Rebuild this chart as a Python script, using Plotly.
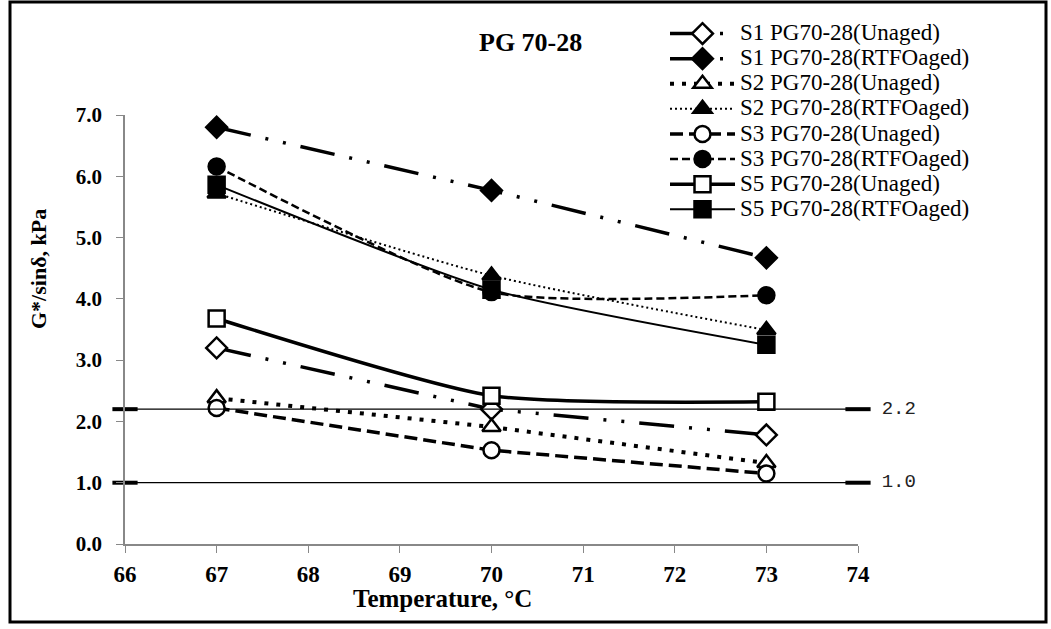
import plotly.graph_objects as go

temperature = [67, 70, 73]
s1_unaged = [3.20, 2.20, 1.78]
s1_rtfo = [6.80, 5.77, 4.67]
s2_unaged = [2.38, 1.91, 1.32]
s2_rtfo = [5.72, 4.38, 3.49]
s3_unaged = [2.22, 1.53, 1.15]
s3_rtfo = [6.16, 4.11, 4.06]
s5_unaged = [3.68, 2.42, 2.32]
s5_rtfo = [5.86, 4.15, 3.25]
names = ["S1 PG70-28(Unaged)", "S1 PG70-28(RTFOaged)", "S2 PG70-28(Unaged)",
         "S2 PG70-28(RTFOaged)", "S3 PG70-28(Unaged)", "S3 PG70-28(RTFOaged)",
         "S5 PG70-28(Unaged)", "S5 PG70-28(RTFOaged)"]
ref_x = [66, 74]
ref_levels = [2.2, 1.0]
x_ticks = [66, 67, 68, 69, 70, 71, 72, 73, 74]
y_ticks = [0, 1, 2, 3, 4, 5, 6, 7]

SERIF = "Liberation Serif, Times New Roman, serif"
W, H = 1051, 629
L, R, T, B = 125, 858, 115, 544


def px(xp):
    return (xp - L) / (R - L)


def py(yp):
    return (B - yp) / (B - T)


fig = go.Figure()

styles = [
    (s1_unaged, "diamond", "white", "35px,15px,3px,15px,3px,15px", 3.5, "linear"),
    (s1_rtfo, "diamond", "black", "35px,15px,3px,15px,3px,15px", 3.5, "linear"),
    (s2_unaged, "triangle-up", "white", "4px,8px", 4, "linear"),
    (s2_rtfo, "triangle-up", "black", "2px,3px", 2, "spline"),
    (s3_unaged, "circle", "white", "13px,6px", 3.5, "linear"),
    (s3_rtfo, "circle", "black", "8px,4px", 2.5, "spline"),
    (s5_unaged, "square", "white", "solid", 3.5, "spline"),
    (s5_rtfo, "square", "black", "solid", 2, "spline"),
]

for (vals, sym, fill, dash, lw, shape), nm in zip(styles, names):
    fig.add_trace(go.Scatter(
        x=temperature, y=vals,
        name=f'<span style="font-size:23px">{nm}</span>',
        mode="lines+markers",
        line=dict(color="black", width=lw, dash=dash, shape=shape, smoothing=0.6),
        marker=dict(symbol=sym, size=16, color=fill,
                    line=dict(color="black", width=2.5)),
        cliponaxis=False,
    ))

for lvl in ref_levels:
    fig.add_trace(go.Scatter(
        x=ref_x, y=[lvl, lvl], mode="lines+markers+text",
        line=dict(color="black", width=1.2),
        marker=dict(symbol="line-ew", size=18, line=dict(color="black", width=4)),
        text=["", f" {lvl:.1f}"], textposition="middle right",
        textfont=dict(family="Liberation Mono, monospace", size=19, color="#222"),
        showlegend=False, cliponaxis=False, hoverinfo="skip",
    ))

fig.update_layout(
    width=W, height=629,
    margin=dict(l=L, r=W - R, t=T, b=H - B),
    paper_bgcolor="white", plot_bgcolor="white",
    font=dict(family=SERIF, color="black"),
    showlegend=True,
    legend=dict(x=px(665), y=py(16), xanchor="left", yanchor="top",
                font=dict(family=SERIF, size=17, color="black"),
                bgcolor="rgba(255,255,255,0)", tracegroupgap=0,
                itemwidth=65),
    xaxis=dict(range=[66, 74], tickvals=x_ticks, ticks="outside", ticklen=7,
               tickcolor="#888", showline=True, linecolor="#888", linewidth=1.5,
               showgrid=False, zeroline=False, ticklabelstandoff=2,
               tickfont=dict(family=SERIF, size=23, color="black", weight="bold")),
    yaxis=dict(range=[0, 7], tickvals=y_ticks, tickformat=".1f", ticks="outside",
               ticklen=7, tickcolor="#888", showline=True, linecolor="#888",
               linewidth=1.5, showgrid=False, zeroline=False, ticklabelstandoff=10,
               tickfont=dict(family=SERIF, size=21, color="black", weight="bold")),
    shapes=[dict(type="rect", xref="paper", yref="paper",
                 x0=px(10), x1=px(1046), y0=py(622), y1=py(2),
                 line=dict(color="black", width=3))],
    annotations=[
        dict(text="<b>PG 70-28</b>", x=px(530), y=py(42), xref="paper", yref="paper",
             xanchor="center", yanchor="middle", showarrow=False,
             font=dict(family=SERIF, size=26, color="black")),
        dict(text="<b>Temperature, °C</b>", x=px(442), y=py(598), xref="paper",
             yref="paper", xanchor="center", yanchor="middle", showarrow=False,
             font=dict(family=SERIF, size=25, color="black")),
        dict(text="<b>G*/sinδ, kPa</b>", x=px(38), y=py(269), xref="paper",
             yref="paper", xanchor="center", yanchor="middle", textangle=-90,
             showarrow=False, font=dict(family=SERIF, size=22, color="black")),
    ],
)

fig.write_html("out.html")
